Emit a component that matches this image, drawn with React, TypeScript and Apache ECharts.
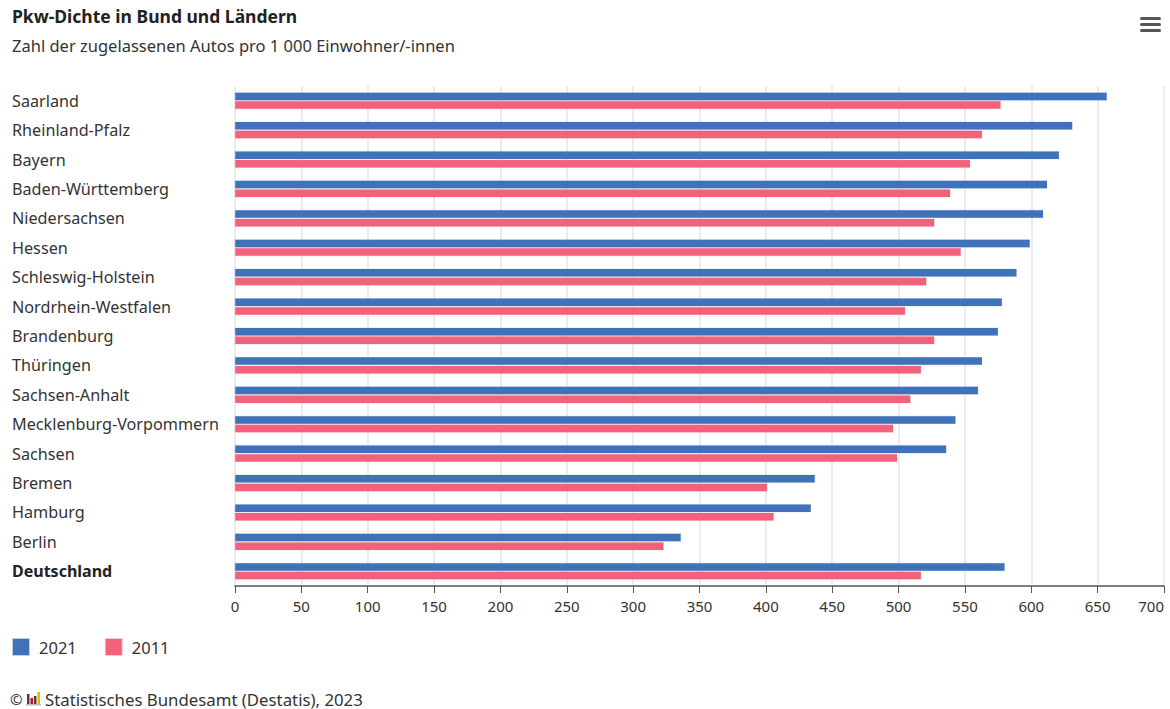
import React, { useEffect, useRef } from "react";
import * as echarts from "echarts";

const categories = [
  "Saarland",
  "Rheinland-Pfalz",
  "Bayern",
  "Baden-Württemberg",
  "Niedersachsen",
  "Hessen",
  "Schleswig-Holstein",
  "Nordrhein-Westfalen",
  "Brandenburg",
  "Thüringen",
  "Sachsen-Anhalt",
  "Mecklenburg-Vorpommern",
  "Sachsen",
  "Bremen",
  "Hamburg",
  "Berlin",
  "Deutschland",
];
const values2021 = [657, 631, 621, 612, 609, 599, 589, 578, 575, 563, 560, 543, 536, 437, 434, 336, 580];
const values2011 = [577, 563, 554, 539, 527, 547, 521, 505, 527, 517, 509, 496, 499, 401, 406, 323, 517];
const xTicks = [0, 50, 100, 150, 200, 250, 300, 350, 400, 450, 500, 550, 600, 650, 700];

const FONT = "'Noto Sans', sans-serif";
const BLUE = "#3f72b9";
const RED = "#f2627a";

export default function App() {
  const ref = useRef<HTMLDivElement>(null);
  useEffect(() => {
    document.body.style.margin = "0";
    const chart = echarts.init(ref.current!, null, { renderer: "svg" });
    chart.setOption({
      animation: false,
      backgroundColor: "#ffffff",
      textStyle: { fontFamily: FONT },
      title: [
        {
          text: "Pkw-Dichte in Bund und Ländern",
          left: 12,
          top: 7,
          padding: 0,
          textStyle: { fontSize: 17.5, fontWeight: "bold", color: "#222", fontFamily: FONT },
        },
        {
          text: "Zahl der zugelassenen Autos pro 1 000 Einwohner/-innen",
          left: 12,
          top: 37,
          padding: 0,
          textStyle: { fontSize: 16.5, fontWeight: "normal", color: "#333", fontFamily: FONT },
        },
      ],
      legend: {
        left: 7,
        top: 633,
        itemWidth: 16,
        itemHeight: 16,
        itemGap: 28,
        icon: "rect",
        textStyle: { fontSize: 16.5, color: "#333", fontFamily: FONT, padding: [0, 0, 0, 5] },
        data: ["2021", "2011"],
      },
      grid: { left: 235, right: 6, top: 86, height: 500, containLabel: false, outerBoundsMode: "none" },
      xAxis: {
        type: "value",
        min: 0,
        max: 700,
        interval: 50,
        axisLine: { show: true, lineStyle: { color: "#555", width: 1.5 } },
        axisTick: { show: true, length: 7, lineStyle: { color: "#555" } },
        axisLabel: {
          fontSize: 15,
          color: "#333",
          margin: 12,
          fontFamily: FONT,
          alignMaxLabel: "right",
          formatter: (v: number) => (xTicks.includes(v) ? String(v) : ""),
        },
        splitLine: { show: true, lineStyle: { color: "#e6e6e6", width: 1.5 } },
      },
      yAxis: {
        type: "category",
        inverse: true,
        data: categories,
        axisLine: { show: false },
        axisTick: { show: false },
        axisLabel: {
          align: "left",
          margin: 223,
          fontSize: 16.2,
          color: "#333",
          fontFamily: FONT,
          formatter: (v: string) => (v === "Deutschland" ? `{b|${v}}` : v),
          rich: {
            b: { fontWeight: "bold", fontSize: 16, color: "#222", fontFamily: FONT },
          },
        },
      },
      series: [
        {
          name: "2021",
          type: "bar",
          data: values2021,
          barWidth: 8,
          barGap: "8%",
          itemStyle: { color: BLUE, borderColor: "rgba(63,114,185,0.35)", borderWidth: 0.5 },
        },
        {
          name: "2011",
          type: "bar",
          data: values2011,
          barWidth: 8,
          itemStyle: { color: RED, borderColor: "rgba(242,98,122,0.35)", borderWidth: 0.5 },
        },
      ],
      graphic: [
        // menu icon
        { type: "rect", shape: { x: 1140, y: 17, width: 21, height: 3, r: 1.5 }, style: { fill: "#555" } },
        { type: "rect", shape: { x: 1140, y: 23, width: 21, height: 3, r: 1.5 }, style: { fill: "#555" } },
        { type: "rect", shape: { x: 1140, y: 29, width: 21, height: 3, r: 1.5 }, style: { fill: "#555" } },
        // copyright, logo and source
        {
          type: "text",
          x: 10,
          y: 699,
          style: { text: "©", fontSize: 15, fill: "#333", fontFamily: FONT, verticalAlign: "middle" },
        },
        { type: "rect", shape: { x: 27, y: 694, width: 2.5, height: 10 }, style: { fill: "#444" } },
        { type: "rect", shape: { x: 30.5, y: 698, width: 2.5, height: 6 }, style: { fill: "#e2001a" } },
        { type: "rect", shape: { x: 34, y: 696, width: 2.5, height: 8 }, style: { fill: "#444" } },
        { type: "rect", shape: { x: 37.5, y: 692, width: 2.5, height: 12 }, style: { fill: "#f0b400" } },
        { type: "rect", shape: { x: 26, y: 704, width: 15, height: 1.5 }, style: { fill: "#bbb" } },
        {
          type: "text",
          x: 45,
          y: 699,
          style: {
            text: "Statistisches Bundesamt (Destatis), 2023",
            fontSize: 16.8,
            fill: "#333",
            fontFamily: FONT,
            verticalAlign: "middle",
          },
        },
      ],
    });
    return () => chart.dispose();
  }, []);
  return <div ref={ref} style={{ width: 1170, height: 709 }} />;
}
